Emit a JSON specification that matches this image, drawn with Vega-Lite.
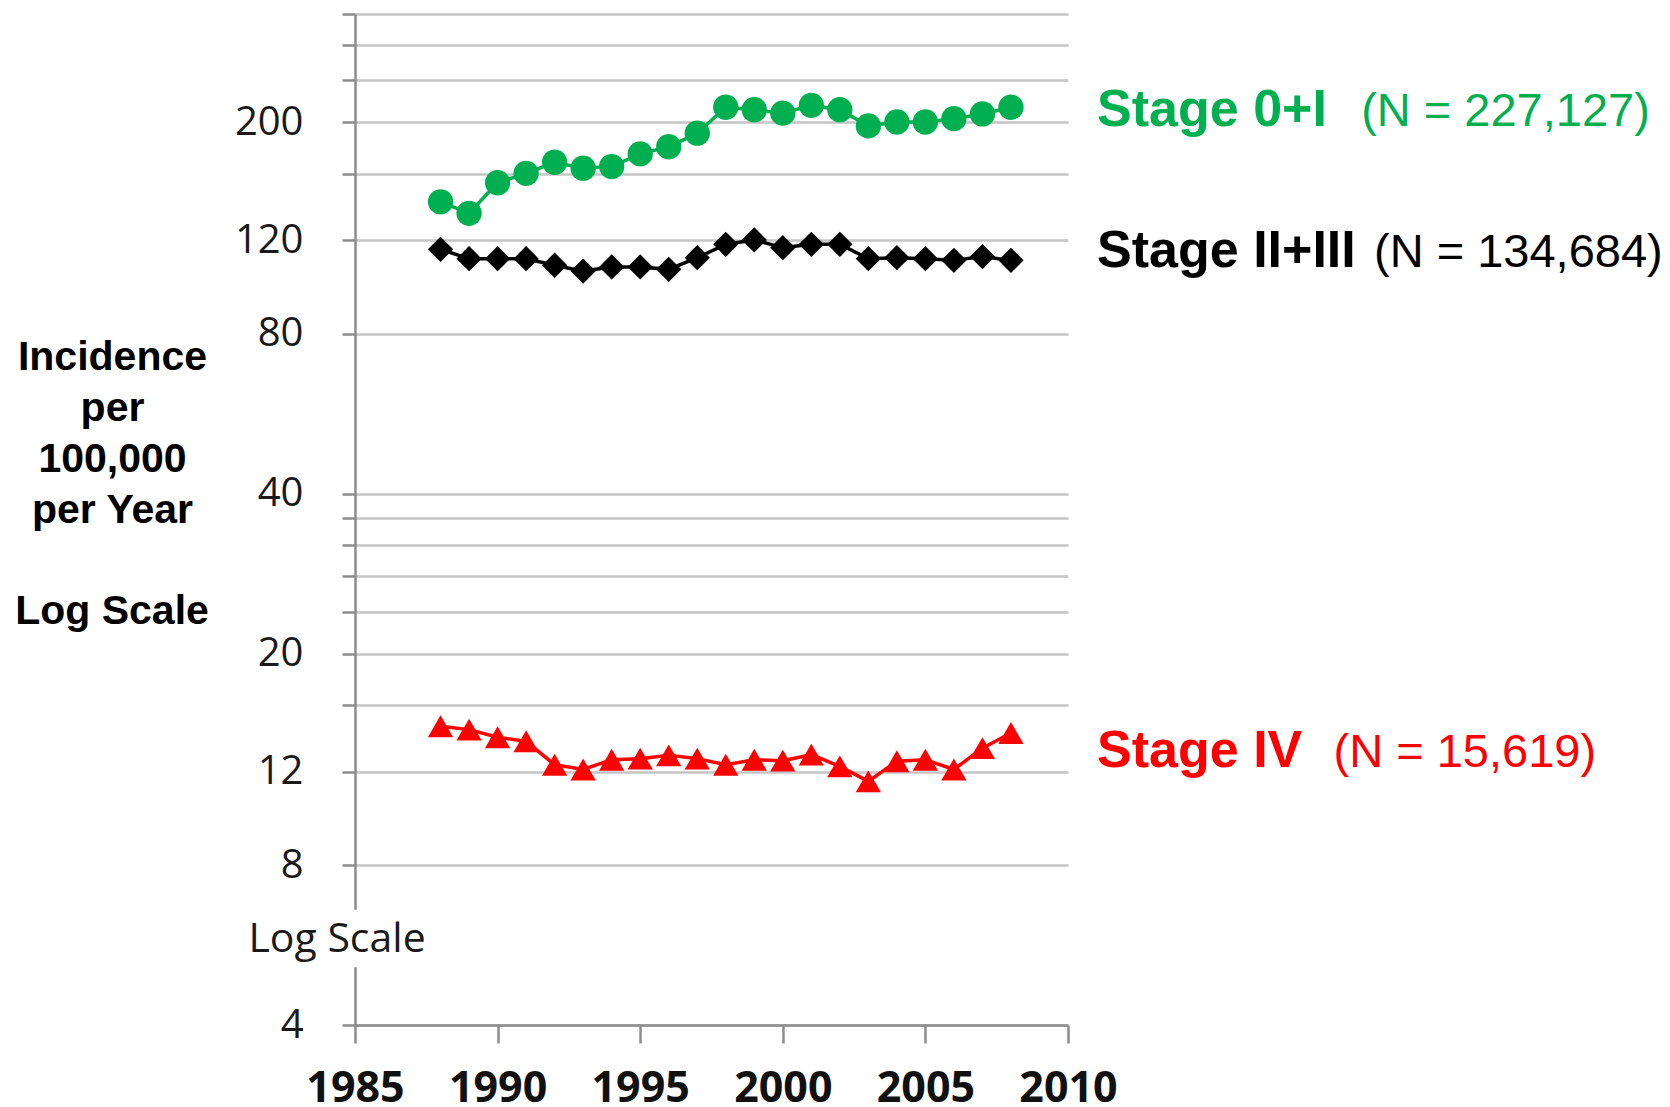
{
  "$schema": "https://vega.github.io/schema/vega-lite/v6.json",
  "autosize": {"type": "none"},
  "padding": {"left": 355, "top": 14, "right": 602, "bottom": 82},
  "width": 713,
  "height": 1011,
  "background": "white",
  "config": {"view": {"stroke": null}},
  "datasets": {
    "series": [
      {"year": 1988, "stage": "Stage 0+I", "value": 141.8},
      {"year": 1989, "stage": "Stage 0+I", "value": 134.9},
      {"year": 1990, "stage": "Stage 0+I", "value": 154.0},
      {"year": 1991, "stage": "Stage 0+I", "value": 160.4},
      {"year": 1992, "stage": "Stage 0+I", "value": 168.3},
      {"year": 1993, "stage": "Stage 0+I", "value": 164.0},
      {"year": 1994, "stage": "Stage 0+I", "value": 165.2},
      {"year": 1995, "stage": "Stage 0+I", "value": 174.5},
      {"year": 1996, "stage": "Stage 0+I", "value": 180.0},
      {"year": 1997, "stage": "Stage 0+I", "value": 190.9},
      {"year": 1998, "stage": "Stage 0+I", "value": 213.6},
      {"year": 1999, "stage": "Stage 0+I", "value": 211.3},
      {"year": 2000, "stage": "Stage 0+I", "value": 208.2},
      {"year": 2001, "stage": "Stage 0+I", "value": 215.4},
      {"year": 2002, "stage": "Stage 0+I", "value": 211.3},
      {"year": 2003, "stage": "Stage 0+I", "value": 197.0},
      {"year": 2004, "stage": "Stage 0+I", "value": 200.4},
      {"year": 2005, "stage": "Stage 0+I", "value": 200.4},
      {"year": 2006, "stage": "Stage 0+I", "value": 203.3},
      {"year": 2007, "stage": "Stage 0+I", "value": 207.5},
      {"year": 2008, "stage": "Stage 0+I", "value": 213.6},
      {"year": 1988, "stage": "Stage II+III", "value": 115.4},
      {"year": 1989, "stage": "Stage II+III", "value": 110.8},
      {"year": 1990, "stage": "Stage II+III", "value": 110.8},
      {"year": 1991, "stage": "Stage II+III", "value": 110.8},
      {"year": 1992, "stage": "Stage II+III", "value": 107.7},
      {"year": 1993, "stage": "Stage II+III", "value": 105.0},
      {"year": 1994, "stage": "Stage II+III", "value": 106.9},
      {"year": 1995, "stage": "Stage II+III", "value": 106.9},
      {"year": 1996, "stage": "Stage II+III", "value": 105.8},
      {"year": 1997, "stage": "Stage II+III", "value": 111.3},
      {"year": 1998, "stage": "Stage II+III", "value": 117.9},
      {"year": 1999, "stage": "Stage II+III", "value": 120.2},
      {"year": 2000, "stage": "Stage II+III", "value": 116.2},
      {"year": 2001, "stage": "Stage II+III", "value": 117.9},
      {"year": 2002, "stage": "Stage II+III", "value": 117.9},
      {"year": 2003, "stage": "Stage II+III", "value": 110.8},
      {"year": 2004, "stage": "Stage II+III", "value": 111.3},
      {"year": 2005, "stage": "Stage II+III", "value": 110.8},
      {"year": 2006, "stage": "Stage II+III", "value": 110.0},
      {"year": 2007, "stage": "Stage II+III", "value": 111.8},
      {"year": 2008, "stage": "Stage II+III", "value": 110.0},
      {"year": 1988, "stage": "Stage IV", "value": 14.6},
      {"year": 1989, "stage": "Stage IV", "value": 14.39},
      {"year": 1990, "stage": "Stage IV", "value": 13.92},
      {"year": 1991, "stage": "Stage IV", "value": 13.68},
      {"year": 1992, "stage": "Stage IV", "value": 12.36},
      {"year": 1993, "stage": "Stage IV", "value": 12.11},
      {"year": 1994, "stage": "Stage IV", "value": 12.63},
      {"year": 1995, "stage": "Stage IV", "value": 12.69},
      {"year": 1996, "stage": "Stage IV", "value": 12.87},
      {"year": 1997, "stage": "Stage IV", "value": 12.69},
      {"year": 1998, "stage": "Stage IV", "value": 12.36},
      {"year": 1999, "stage": "Stage IV", "value": 12.63},
      {"year": 2000, "stage": "Stage IV", "value": 12.58},
      {"year": 2001, "stage": "Stage IV", "value": 12.91},
      {"year": 2002, "stage": "Stage IV", "value": 12.27},
      {"year": 2003, "stage": "Stage IV", "value": 11.5},
      {"year": 2004, "stage": "Stage IV", "value": 12.55},
      {"year": 2005, "stage": "Stage IV", "value": 12.63},
      {"year": 2006, "stage": "Stage IV", "value": 12.11},
      {"year": 2007, "stage": "Stage IV", "value": 13.28},
      {"year": 2008, "stage": "Stage IV", "value": 14.18}
    ],
    "names": [
      {"stage": "Stage 0+I", "text": "Stage 0+I", "year": 2011.02, "value": 197},
      {"stage": "Stage II+III", "text": "Stage II+III", "year": 2011.02, "value": 106.7},
      {"stage": "Stage IV", "text": "Stage IV", "year": 2011.02, "value": 12.26}
    ],
    "counts": [
      {"stage": "Stage 0+I", "text": "(N = 227,127)", "year": 2020.28, "value": 197},
      {"stage": "Stage II+III", "text": "(N = 134,684)", "year": 2020.73, "value": 106.7},
      {"stage": "Stage IV", "text": "(N = 15,619)", "year": 2019.31, "value": 12.26}
    ],
    "gap": [
      {"x": 1984.5, "x2": 1985.5, "y": 5.14, "y2": 6.59, "text": "Log Scale", "tx": 1984.37, "ty": 5.78}
    ],
    "sidenote": [
      {"text": "Log Scale", "tx": 1976.48, "ty": 24.0}
    ]
  },
  "encoding": {
    "x": {
      "type": "quantitative",
      "scale": {"domain": [1985, 2010], "nice": false, "zero": false},
      "axis": {
        "title": null,
        "values": [1985, 1990, 1995, 2000, 2005, 2010],
        "format": "d",
        "grid": false,
        "domainColor": "#8c8c8c",
        "domainWidth": 2.5,
        "tickColor": "#8c8c8c",
        "tickWidth": 2.5,
        "tickSize": 18,
        "labelFont": "Open Sans",
        "labelFontWeight": "bold",
        "labelFontSize": 43,
        "labelColor": "#111111",
        "labelPadding": 24,
        "labelFlush": false,
        "labelOverlap": false
      }
    },
    "y": {
      "type": "quantitative",
      "scale": {"type": "log", "domain": [4, 320], "nice": false},
      "axis": {
        "title": ["Incidence", "per", "100,000", "per Year"],
        "titleFont": "Liberation Sans",
        "titleFontWeight": "bold",
        "titleFontSize": 41,
        "titleColor": "#000000",
        "titleAngle": 0,
        "titleAlign": "center",
        "titleBaseline": "top",
        "titleX": -243,
        "titleY": 323,
        "titleLineHeight": 51,
        "values": [4, 8, 12, 16, 20, 24, 28, 32, 36, 40, 80, 120, 160, 200, 240, 280, 320],
        "labelExpr": "indexof([4, 8, 12, 20, 40, 80, 120, 200], datum.value) >= 0 ? datum.value + '' : ''",
        "grid": true,
        "gridColor": "#c4c4c4",
        "gridWidth": 2.5,
        "domainColor": "#8c8c8c",
        "domainWidth": 2.5,
        "tickColor": "#8c8c8c",
        "tickWidth": 2.5,
        "tickSize": 13,
        "labelFont": "Open Sans",
        "labelFontSize": 40,
        "labelColor": "#1a1a1a",
        "labelPadding": 39,
        "labelFlush": false,
        "labelOverlap": false
      }
    }
  },
  "layer": [
    {
      "data": {"name": "gap"},
      "mark": {"type": "rect", "fill": "white", "clip": false},
      "encoding": {
        "x": {"field": "x", "type": "quantitative"},
        "x2": {"field": "x2"},
        "y": {"field": "y", "type": "quantitative"},
        "y2": {"field": "y2"}
      }
    },
    {
      "data": {"name": "gap"},
      "mark": {"type": "text", "font": "Open Sans", "fontSize": 41, "color": "#1a1a1a", "align": "center", "baseline": "middle", "clip": false},
      "encoding": {
        "x": {"field": "tx", "type": "quantitative"},
        "y": {"field": "ty", "type": "quantitative"},
        "text": {"field": "text"}
      }
    },
    {
      "data": {"name": "sidenote"},
      "mark": {"type": "text", "font": "Liberation Sans", "fontWeight": "bold", "fontSize": 41, "color": "#000000", "align": "center", "baseline": "middle", "clip": false},
      "encoding": {
        "x": {"field": "tx", "type": "quantitative"},
        "y": {"field": "ty", "type": "quantitative"},
        "text": {"field": "text"}
      }
    },
    {
      "data": {"name": "series"},
      "mark": {"type": "line", "strokeWidth": 3.5},
      "encoding": {
        "x": {"field": "year", "type": "quantitative"},
        "y": {"field": "value", "type": "quantitative"},
        "color": {
          "field": "stage", "type": "nominal",
          "scale": {"domain": ["Stage 0+I", "Stage II+III", "Stage IV"], "range": ["#00b050", "#000000", "#ff0000"]},
          "legend": null
        }
      }
    },
    {
      "data": {"name": "series"},
      "mark": {"type": "point", "filled": true, "opacity": 1, "size": 640},
      "encoding": {
        "x": {"field": "year", "type": "quantitative"},
        "y": {"field": "value", "type": "quantitative"},
        "color": {"field": "stage", "type": "nominal", "legend": null},
        "shape": {
          "field": "stage", "type": "nominal",
          "scale": {"domain": ["Stage 0+I", "Stage II+III", "Stage IV"], "range": ["circle", "diamond", "triangle-up"]},
          "legend": null
        }
      }
    },
    {
      "data": {"name": "names"},
      "mark": {"type": "text", "font": "Liberation Sans", "fontWeight": "bold", "fontSize": 52, "align": "left", "baseline": "alphabetic", "clip": false},
      "encoding": {
        "x": {"field": "year", "type": "quantitative"},
        "y": {"field": "value", "type": "quantitative"},
        "text": {"field": "text"},
        "color": {"field": "stage", "type": "nominal", "legend": null}
      }
    },
    {
      "data": {"name": "counts"},
      "mark": {"type": "text", "font": "Liberation Sans", "fontSize": 47, "align": "left", "baseline": "alphabetic", "clip": false},
      "encoding": {
        "x": {"field": "year", "type": "quantitative"},
        "y": {"field": "value", "type": "quantitative"},
        "text": {"field": "text"},
        "color": {"field": "stage", "type": "nominal", "legend": null}
      }
    }
  ]
}
